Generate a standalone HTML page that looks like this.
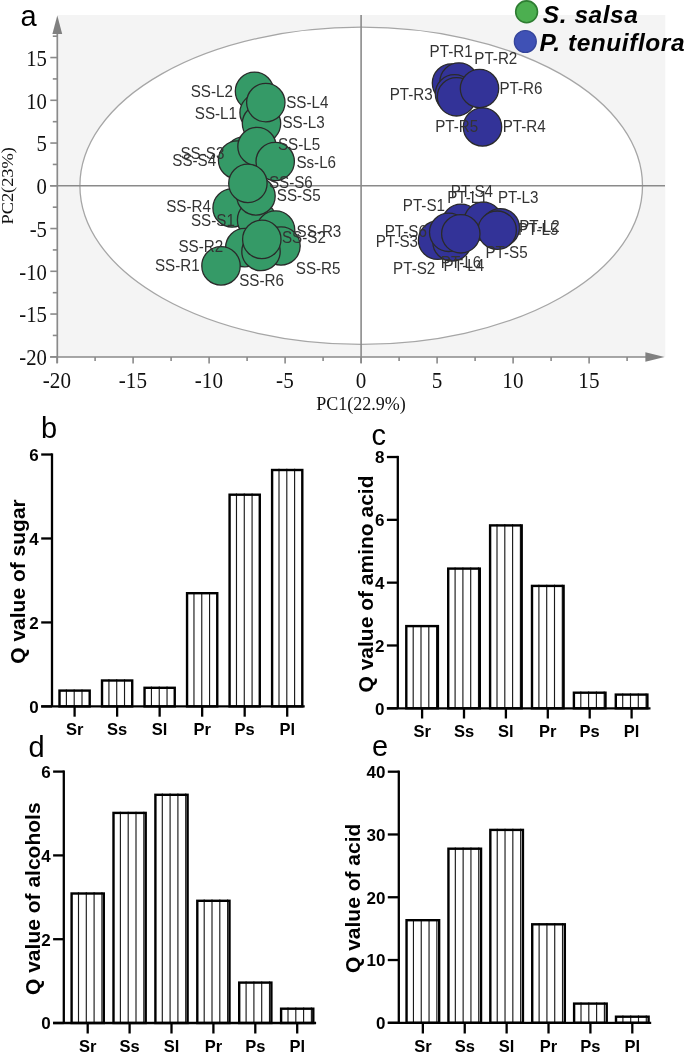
<!DOCTYPE html>
<html><head><meta charset="utf-8"><style>
html,body{margin:0;padding:0;background:#fff;overflow:hidden;}
svg{display:block;will-change:transform;}
.tk{font-family:"Liberation Serif",serif;font-size:22px;fill:#111;}
.al{font-family:"Liberation Serif",serif;font-size:18px;fill:#111;}
.pl{font-family:"Liberation Sans",sans-serif;font-size:15.2px;fill:#333;}
.lg{font-family:"Liberation Sans",sans-serif;font-size:24.5px;letter-spacing:0.55px;font-weight:bold;font-style:italic;fill:#000;}
.pn{font-family:"Liberation Sans",sans-serif;font-size:29px;fill:#000;}
.bt{font-family:"Liberation Sans",sans-serif;font-size:17px;font-weight:bold;fill:#000;}
.bx{font-family:"Liberation Sans",sans-serif;font-size:16.5px;font-weight:bold;fill:#000;}
.yl{font-family:"Liberation Sans",sans-serif;font-size:21px;font-weight:bold;fill:#000;}
</style></head><body>
<svg width="685" height="1054" viewBox="0 0 685 1054">
<rect x="57.3" y="15" width="608" height="342" fill="#f4f4f4"/>
<ellipse cx="361.2" cy="185.8" rx="281.3" ry="158.6" fill="#ffffff" stroke="#a6a6a6" stroke-width="1.3"/>
<line x1="50" y1="185.8" x2="665" y2="185.8" stroke="#8a8a8a" stroke-width="1.6"/>
<line x1="361.1" y1="15" x2="361.1" y2="363" stroke="#8a8a8a" stroke-width="1.6"/>
<line x1="57.3" y1="30" x2="57.3" y2="363" stroke="#8a8a8a" stroke-width="1.7"/>
<line x1="50" y1="357" x2="650" y2="357" stroke="#8a8a8a" stroke-width="1.7"/>
<polygon points="57.3,15.4 52.4,34 62.2,34" fill="#808080"/>
<polygon points="664.6,357 645.4,352.3 645.4,361.7" fill="#808080"/>
<line x1="50.3" y1="356.80" x2="57.3" y2="356.80" stroke="#8a8a8a" stroke-width="1.6"/>
<line x1="52.8" y1="335.43" x2="57.3" y2="335.43" stroke="#8a8a8a" stroke-width="1.6"/>
<line x1="50.3" y1="314.05" x2="57.3" y2="314.05" stroke="#8a8a8a" stroke-width="1.6"/>
<line x1="52.8" y1="292.68" x2="57.3" y2="292.68" stroke="#8a8a8a" stroke-width="1.6"/>
<line x1="50.3" y1="271.30" x2="57.3" y2="271.30" stroke="#8a8a8a" stroke-width="1.6"/>
<line x1="52.8" y1="249.93" x2="57.3" y2="249.93" stroke="#8a8a8a" stroke-width="1.6"/>
<line x1="50.3" y1="228.55" x2="57.3" y2="228.55" stroke="#8a8a8a" stroke-width="1.6"/>
<line x1="52.8" y1="207.18" x2="57.3" y2="207.18" stroke="#8a8a8a" stroke-width="1.6"/>
<line x1="50.3" y1="185.80" x2="57.3" y2="185.80" stroke="#8a8a8a" stroke-width="1.6"/>
<line x1="52.8" y1="164.43" x2="57.3" y2="164.43" stroke="#8a8a8a" stroke-width="1.6"/>
<line x1="50.3" y1="143.05" x2="57.3" y2="143.05" stroke="#8a8a8a" stroke-width="1.6"/>
<line x1="52.8" y1="121.68" x2="57.3" y2="121.68" stroke="#8a8a8a" stroke-width="1.6"/>
<line x1="50.3" y1="100.30" x2="57.3" y2="100.30" stroke="#8a8a8a" stroke-width="1.6"/>
<line x1="52.8" y1="78.92" x2="57.3" y2="78.92" stroke="#8a8a8a" stroke-width="1.6"/>
<line x1="50.3" y1="57.55" x2="57.3" y2="57.55" stroke="#8a8a8a" stroke-width="1.6"/>
<line x1="52.8" y1="36.18" x2="57.3" y2="36.18" stroke="#8a8a8a" stroke-width="1.6"/>
<line x1="57.10" y1="357" x2="57.10" y2="363.5" stroke="#8a8a8a" stroke-width="1.6"/>
<line x1="95.10" y1="357" x2="95.10" y2="361" stroke="#8a8a8a" stroke-width="1.6"/>
<line x1="133.10" y1="357" x2="133.10" y2="363.5" stroke="#8a8a8a" stroke-width="1.6"/>
<line x1="171.10" y1="357" x2="171.10" y2="361" stroke="#8a8a8a" stroke-width="1.6"/>
<line x1="209.10" y1="357" x2="209.10" y2="363.5" stroke="#8a8a8a" stroke-width="1.6"/>
<line x1="247.10" y1="357" x2="247.10" y2="361" stroke="#8a8a8a" stroke-width="1.6"/>
<line x1="285.10" y1="357" x2="285.10" y2="363.5" stroke="#8a8a8a" stroke-width="1.6"/>
<line x1="323.10" y1="357" x2="323.10" y2="361" stroke="#8a8a8a" stroke-width="1.6"/>
<line x1="361.10" y1="357" x2="361.10" y2="363.5" stroke="#8a8a8a" stroke-width="1.6"/>
<line x1="399.10" y1="357" x2="399.10" y2="361" stroke="#8a8a8a" stroke-width="1.6"/>
<line x1="437.10" y1="357" x2="437.10" y2="363.5" stroke="#8a8a8a" stroke-width="1.6"/>
<line x1="475.10" y1="357" x2="475.10" y2="361" stroke="#8a8a8a" stroke-width="1.6"/>
<line x1="513.10" y1="357" x2="513.10" y2="363.5" stroke="#8a8a8a" stroke-width="1.6"/>
<line x1="551.10" y1="357" x2="551.10" y2="361" stroke="#8a8a8a" stroke-width="1.6"/>
<line x1="589.10" y1="357" x2="589.10" y2="363.5" stroke="#8a8a8a" stroke-width="1.6"/>
<line x1="627.10" y1="357" x2="627.10" y2="361" stroke="#8a8a8a" stroke-width="1.6"/>
<text transform="translate(46.9,65.75) scale(0.94,1.035)" text-anchor="end" class="tk">15</text>
<text transform="translate(46.9,108.50) scale(0.94,1.035)" text-anchor="end" class="tk">10</text>
<text transform="translate(46.9,151.25) scale(0.94,1.035)" text-anchor="end" class="tk">5</text>
<text transform="translate(46.9,194.00) scale(0.94,1.035)" text-anchor="end" class="tk">0</text>
<text transform="translate(46.9,236.75) scale(0.94,1.035)" text-anchor="end" class="tk">-5</text>
<text transform="translate(46.9,279.50) scale(0.94,1.035)" text-anchor="end" class="tk">-10</text>
<text transform="translate(46.9,322.25) scale(0.94,1.035)" text-anchor="end" class="tk">-15</text>
<text transform="translate(46.9,365.00) scale(0.94,1.035)" text-anchor="end" class="tk">-20</text>
<text transform="translate(56.90,388.2) scale(0.96,1.035)" text-anchor="middle" class="tk">-20</text>
<text transform="translate(132.90,388.2) scale(0.96,1.035)" text-anchor="middle" class="tk">-15</text>
<text transform="translate(208.90,388.2) scale(0.96,1.035)" text-anchor="middle" class="tk">-10</text>
<text transform="translate(284.90,388.2) scale(0.96,1.035)" text-anchor="middle" class="tk">-5</text>
<text transform="translate(360.90,388.2) scale(0.96,1.035)" text-anchor="middle" class="tk">0</text>
<text transform="translate(436.90,388.2) scale(0.96,1.035)" text-anchor="middle" class="tk">5</text>
<text transform="translate(512.90,388.2) scale(0.96,1.035)" text-anchor="middle" class="tk">10</text>
<text transform="translate(588.90,388.2) scale(0.96,1.035)" text-anchor="middle" class="tk">15</text>
<text x="361" y="410.1" text-anchor="middle" class="al">PC1(22.9%)</text>
<text transform="translate(13.3,185.8) rotate(-90) scale(1.02,0.9)" text-anchor="middle" class="al">PC2(23%)</text>
<circle cx="254.5" cy="91.3" r="19.2" fill="#359a67" stroke="#2a2a2a" stroke-width="1.3"/>
<circle cx="259.1" cy="112.7" r="19.2" fill="#359a67" stroke="#2a2a2a" stroke-width="1.3"/>
<circle cx="261.5" cy="123.6" r="19.2" fill="#359a67" stroke="#2a2a2a" stroke-width="1.3"/>
<circle cx="265.8" cy="102.6" r="19.2" fill="#359a67" stroke="#2a2a2a" stroke-width="1.3"/>
<circle cx="244" cy="156" r="19.2" fill="#359a67" stroke="#2a2a2a" stroke-width="1.3"/>
<circle cx="237.6" cy="160" r="19.2" fill="#359a67" stroke="#2a2a2a" stroke-width="1.3"/>
<circle cx="257" cy="146.5" r="19.2" fill="#359a67" stroke="#2a2a2a" stroke-width="1.3"/>
<circle cx="275.2" cy="161.5" r="19.2" fill="#359a67" stroke="#2a2a2a" stroke-width="1.3"/>
<circle cx="232.1" cy="208" r="19.2" fill="#359a67" stroke="#2a2a2a" stroke-width="1.3"/>
<circle cx="256.6" cy="219.9" r="19.2" fill="#359a67" stroke="#2a2a2a" stroke-width="1.3"/>
<circle cx="256" cy="196" r="19.2" fill="#359a67" stroke="#2a2a2a" stroke-width="1.3"/>
<circle cx="247.9" cy="183.4" r="19.2" fill="#359a67" stroke="#2a2a2a" stroke-width="1.3"/>
<circle cx="275.6" cy="230" r="19.2" fill="#359a67" stroke="#2a2a2a" stroke-width="1.3"/>
<circle cx="281" cy="246" r="19.2" fill="#359a67" stroke="#2a2a2a" stroke-width="1.3"/>
<circle cx="244.8" cy="247.6" r="19.2" fill="#359a67" stroke="#2a2a2a" stroke-width="1.3"/>
<circle cx="221" cy="265.9" r="19.2" fill="#359a67" stroke="#2a2a2a" stroke-width="1.3"/>
<circle cx="261" cy="251.5" r="19.2" fill="#359a67" stroke="#2a2a2a" stroke-width="1.3"/>
<circle cx="261.8" cy="239.4" r="19.2" fill="#359a67" stroke="#2a2a2a" stroke-width="1.3"/>
<circle cx="451.5" cy="83" r="19.2" fill="#333398" stroke="#2a2a2a" stroke-width="1.3"/>
<circle cx="459" cy="82" r="19.2" fill="#333398" stroke="#2a2a2a" stroke-width="1.3"/>
<circle cx="454.5" cy="93.8" r="19.2" fill="#333398" stroke="#2a2a2a" stroke-width="1.3"/>
<circle cx="456.5" cy="96.8" r="19.2" fill="#333398" stroke="#2a2a2a" stroke-width="1.3"/>
<circle cx="482.5" cy="127" r="19.2" fill="#333398" stroke="#2a2a2a" stroke-width="1.3"/>
<circle cx="479.5" cy="88.5" r="19.2" fill="#333398" stroke="#2a2a2a" stroke-width="1.3"/>
<circle cx="461.1" cy="223.3" r="19.2" fill="#333398" stroke="#2a2a2a" stroke-width="1.3"/>
<circle cx="483.2" cy="221.3" r="19.2" fill="#333398" stroke="#2a2a2a" stroke-width="1.3"/>
<circle cx="500.3" cy="227.8" r="19.2" fill="#333398" stroke="#2a2a2a" stroke-width="1.3"/>
<circle cx="497.2" cy="230.2" r="19.2" fill="#333398" stroke="#2a2a2a" stroke-width="1.3"/>
<circle cx="437.6" cy="240.2" r="19.2" fill="#333398" stroke="#2a2a2a" stroke-width="1.3"/>
<circle cx="452" cy="242" r="19.2" fill="#333398" stroke="#2a2a2a" stroke-width="1.3"/>
<circle cx="448.7" cy="232.3" r="19.2" fill="#333398" stroke="#2a2a2a" stroke-width="1.3"/>
<circle cx="460.8" cy="233.8" r="19.2" fill="#333398" stroke="#2a2a2a" stroke-width="1.3"/>
<text transform="translate(190.70,96.9) scale(1.0,1.08)" class="pl">SS-L2</text>
<text transform="translate(286.20,108) scale(1.0,1.08)" class="pl">SS-L4</text>
<text transform="translate(194.80,119) scale(1.0,1.08)" class="pl">SS-L1</text>
<text transform="translate(282.40,128.4) scale(1.0,1.08)" class="pl">SS-L3</text>
<text transform="translate(278.00,150.3) scale(1.0,1.08)" class="pl">SS-L5</text>
<text transform="translate(296.40,167.8) scale(1.0,1.08)" class="pl">Ss-L6</text>
<text transform="translate(180.50,159) scale(1.0,1.08)" class="pl">SS-S3</text>
<text transform="translate(172.30,166.3) scale(1.0,1.08)" class="pl">SS-S4</text>
<text transform="translate(268.90,187.7) scale(1.0,1.08)" class="pl">SS-S6</text>
<text transform="translate(276.80,200.9) scale(1.0,1.08)" class="pl">SS-S5</text>
<text transform="translate(166.20,212) scale(1.0,1.08)" class="pl">SS-R4</text>
<text transform="translate(191.00,225.7) scale(1.0,1.08)" class="pl">SS-S1</text>
<text transform="translate(296.60,236.5) scale(1.0,1.08)" class="pl">SS-R3</text>
<text transform="translate(282.00,243.2) scale(1.0,1.08)" class="pl">SS-S2</text>
<text transform="translate(178.40,252) scale(1.0,1.08)" class="pl">SS-R2</text>
<text transform="translate(155.00,271) scale(1.0,1.08)" class="pl">SS-R1</text>
<text transform="translate(295.80,273.9) scale(1.0,1.08)" class="pl">SS-R5</text>
<text transform="translate(239.20,285.5) scale(1.0,1.08)" class="pl">SS-R6</text>
<text transform="translate(429.60,57.3) scale(1.0,1.08)" class="pl">PT-R1</text>
<text transform="translate(474.30,63.6) scale(1.0,1.08)" class="pl">PT-R2</text>
<text transform="translate(389.70,99.6) scale(1.0,1.08)" class="pl">PT-R3</text>
<text transform="translate(499.50,93.9) scale(1.0,1.08)" class="pl">PT-R6</text>
<text transform="translate(435.20,132) scale(1.0,1.08)" class="pl">PT-R5</text>
<text transform="translate(502.70,132) scale(1.0,1.08)" class="pl">PT-R4</text>
<text transform="translate(450.80,197.2) scale(1.0,1.08)" class="pl">PT-S4</text>
<text transform="translate(447.20,203.3) scale(1.0,1.08)" class="pl">PT-L1</text>
<text transform="translate(497.90,203.3) scale(1.0,1.08)" class="pl">PT-L3</text>
<text transform="translate(402.80,211) scale(1.0,1.08)" class="pl">PT-S1</text>
<text transform="translate(384.70,237.4) scale(1.0,1.08)" class="pl">PT-S6</text>
<text transform="translate(375.80,246.6) scale(1.0,1.08)" class="pl">PT-S3</text>
<text transform="translate(519.20,231.9) scale(1.0,1.08)" class="pl">PT-L2</text>
<text transform="translate(517.90,234.6) scale(1.0,1.08)" class="pl">PT-L5</text>
<text transform="translate(485.40,258.2) scale(1.0,1.08)" class="pl">PT-S5</text>
<text transform="translate(393.10,273.5) scale(1.0,1.08)" class="pl">PT-S2</text>
<text transform="translate(440.80,267.9) scale(1.0,1.08)" class="pl">PT-L6</text>
<text transform="translate(443.60,270.7) scale(1.0,1.08)" class="pl">PT-L4</text>
<circle cx="526.6" cy="11.8" r="10.9" fill="#4caf50" stroke="#2e7d32" stroke-width="1.6"/>
<circle cx="525.3" cy="41.5" r="11" fill="#3f51b5" stroke="#34449a" stroke-width="1.2"/>
<text x="542.8" y="22.5" class="lg">S. salsa</text>
<text x="539.5" y="51.4" class="lg">P. tenuiflora</text>
<text x="20.5" y="25.6" class="pn">a</text>
<text x="41.1" y="438.2" class="pn">b</text>
<text x="371.4" y="444.6" class="pn">c</text>
<text x="28.5" y="756.6" class="pn">d</text>
<text x="372" y="756.4" class="pn">e</text>
<line x1="66.40" y1="689.40" x2="66.40" y2="706.40" stroke="#1a1a1a" stroke-width="1.15"/>
<line x1="74.20" y1="689.40" x2="74.20" y2="706.40" stroke="#1a1a1a" stroke-width="1.15"/>
<line x1="82.00" y1="689.40" x2="82.00" y2="706.40" stroke="#1a1a1a" stroke-width="1.15"/>
<rect x="59.50" y="690.60" width="30.20" height="15.80" fill="none" stroke="#000" stroke-width="2.4"/>
<line x1="108.92" y1="679.30" x2="108.92" y2="706.40" stroke="#1a1a1a" stroke-width="1.15"/>
<line x1="116.72" y1="679.30" x2="116.72" y2="706.40" stroke="#1a1a1a" stroke-width="1.15"/>
<line x1="124.52" y1="679.30" x2="124.52" y2="706.40" stroke="#1a1a1a" stroke-width="1.15"/>
<rect x="102.02" y="680.50" width="30.20" height="25.90" fill="none" stroke="#000" stroke-width="2.4"/>
<line x1="151.44" y1="686.60" x2="151.44" y2="706.40" stroke="#1a1a1a" stroke-width="1.15"/>
<line x1="159.24" y1="686.60" x2="159.24" y2="706.40" stroke="#1a1a1a" stroke-width="1.15"/>
<line x1="167.04" y1="686.60" x2="167.04" y2="706.40" stroke="#1a1a1a" stroke-width="1.15"/>
<rect x="144.54" y="687.80" width="30.20" height="18.60" fill="none" stroke="#000" stroke-width="2.4"/>
<line x1="193.96" y1="592.00" x2="193.96" y2="706.40" stroke="#1a1a1a" stroke-width="1.15"/>
<line x1="201.76" y1="592.00" x2="201.76" y2="706.40" stroke="#1a1a1a" stroke-width="1.15"/>
<line x1="209.56" y1="592.00" x2="209.56" y2="706.40" stroke="#1a1a1a" stroke-width="1.15"/>
<rect x="187.06" y="593.20" width="30.20" height="113.20" fill="none" stroke="#000" stroke-width="2.4"/>
<line x1="236.48" y1="493.50" x2="236.48" y2="706.40" stroke="#1a1a1a" stroke-width="1.15"/>
<line x1="244.28" y1="493.50" x2="244.28" y2="706.40" stroke="#1a1a1a" stroke-width="1.15"/>
<line x1="252.08" y1="493.50" x2="252.08" y2="706.40" stroke="#1a1a1a" stroke-width="1.15"/>
<rect x="229.58" y="494.70" width="30.20" height="211.70" fill="none" stroke="#000" stroke-width="2.4"/>
<line x1="279.00" y1="468.80" x2="279.00" y2="706.40" stroke="#1a1a1a" stroke-width="1.15"/>
<line x1="286.80" y1="468.80" x2="286.80" y2="706.40" stroke="#1a1a1a" stroke-width="1.15"/>
<line x1="294.60" y1="468.80" x2="294.60" y2="706.40" stroke="#1a1a1a" stroke-width="1.15"/>
<rect x="272.10" y="470.00" width="30.20" height="236.40" fill="none" stroke="#000" stroke-width="2.4"/>
<line x1="52.0" y1="453.37" x2="52.0" y2="706.40" stroke="#000" stroke-width="2.3"/>
<line x1="41.2" y1="706.4" x2="304.7" y2="706.4" stroke="#000" stroke-width="2.3"/>
<line x1="41.20" y1="706.40" x2="52.0" y2="706.40" stroke="#000" stroke-width="2.3"/>
<text x="38.80" y="712.80" text-anchor="end" class="bt">0</text>
<line x1="41.20" y1="622.44" x2="52.0" y2="622.44" stroke="#000" stroke-width="2.3"/>
<text x="38.80" y="628.84" text-anchor="end" class="bt">2</text>
<line x1="41.20" y1="538.48" x2="52.0" y2="538.48" stroke="#000" stroke-width="2.3"/>
<text x="38.80" y="544.88" text-anchor="end" class="bt">4</text>
<line x1="41.20" y1="454.52" x2="52.0" y2="454.52" stroke="#000" stroke-width="2.3"/>
<text x="38.80" y="460.92" text-anchor="end" class="bt">6</text>
<line x1="74.60" y1="706.4" x2="74.60" y2="716.70" stroke="#000" stroke-width="2.3"/>
<text x="74.60" y="735.30" text-anchor="middle" class="bx">Sr</text>
<line x1="117.12" y1="706.4" x2="117.12" y2="716.70" stroke="#000" stroke-width="2.3"/>
<text x="117.12" y="735.30" text-anchor="middle" class="bx">Ss</text>
<line x1="159.64" y1="706.4" x2="159.64" y2="716.70" stroke="#000" stroke-width="2.3"/>
<text x="159.64" y="735.30" text-anchor="middle" class="bx">Sl</text>
<line x1="202.16" y1="706.4" x2="202.16" y2="716.70" stroke="#000" stroke-width="2.3"/>
<text x="202.16" y="735.30" text-anchor="middle" class="bx">Pr</text>
<line x1="244.68" y1="706.4" x2="244.68" y2="716.70" stroke="#000" stroke-width="2.3"/>
<text x="244.68" y="735.30" text-anchor="middle" class="bx">Ps</text>
<line x1="287.20" y1="706.4" x2="287.20" y2="716.70" stroke="#000" stroke-width="2.3"/>
<text x="287.20" y="735.30" text-anchor="middle" class="bx">Pl</text>
<text transform="translate(24.8,581.5) rotate(-90)" text-anchor="middle" class="yl">Q value of sugar</text>
<line x1="413.20" y1="624.90" x2="413.20" y2="708.30" stroke="#1a1a1a" stroke-width="1.15"/>
<line x1="421.00" y1="624.90" x2="421.00" y2="708.30" stroke="#1a1a1a" stroke-width="1.15"/>
<line x1="428.80" y1="624.90" x2="428.80" y2="708.30" stroke="#1a1a1a" stroke-width="1.15"/>
<line x1="436.60" y1="624.90" x2="436.60" y2="708.30" stroke="#1a1a1a" stroke-width="1.15"/>
<rect x="406.30" y="626.10" width="31.60" height="82.20" fill="none" stroke="#000" stroke-width="2.4"/>
<line x1="455.10" y1="567.40" x2="455.10" y2="708.30" stroke="#1a1a1a" stroke-width="1.15"/>
<line x1="462.90" y1="567.40" x2="462.90" y2="708.30" stroke="#1a1a1a" stroke-width="1.15"/>
<line x1="470.70" y1="567.40" x2="470.70" y2="708.30" stroke="#1a1a1a" stroke-width="1.15"/>
<line x1="478.50" y1="567.40" x2="478.50" y2="708.30" stroke="#1a1a1a" stroke-width="1.15"/>
<rect x="448.20" y="568.60" width="31.60" height="139.70" fill="none" stroke="#000" stroke-width="2.4"/>
<line x1="497.00" y1="524.20" x2="497.00" y2="708.30" stroke="#1a1a1a" stroke-width="1.15"/>
<line x1="504.80" y1="524.20" x2="504.80" y2="708.30" stroke="#1a1a1a" stroke-width="1.15"/>
<line x1="512.60" y1="524.20" x2="512.60" y2="708.30" stroke="#1a1a1a" stroke-width="1.15"/>
<line x1="520.40" y1="524.20" x2="520.40" y2="708.30" stroke="#1a1a1a" stroke-width="1.15"/>
<rect x="490.10" y="525.40" width="31.60" height="182.90" fill="none" stroke="#000" stroke-width="2.4"/>
<line x1="538.90" y1="584.70" x2="538.90" y2="708.30" stroke="#1a1a1a" stroke-width="1.15"/>
<line x1="546.70" y1="584.70" x2="546.70" y2="708.30" stroke="#1a1a1a" stroke-width="1.15"/>
<line x1="554.50" y1="584.70" x2="554.50" y2="708.30" stroke="#1a1a1a" stroke-width="1.15"/>
<line x1="562.30" y1="584.70" x2="562.30" y2="708.30" stroke="#1a1a1a" stroke-width="1.15"/>
<rect x="532.00" y="585.90" width="31.60" height="122.40" fill="none" stroke="#000" stroke-width="2.4"/>
<line x1="580.80" y1="691.50" x2="580.80" y2="708.30" stroke="#1a1a1a" stroke-width="1.15"/>
<line x1="588.60" y1="691.50" x2="588.60" y2="708.30" stroke="#1a1a1a" stroke-width="1.15"/>
<line x1="596.40" y1="691.50" x2="596.40" y2="708.30" stroke="#1a1a1a" stroke-width="1.15"/>
<line x1="604.20" y1="691.50" x2="604.20" y2="708.30" stroke="#1a1a1a" stroke-width="1.15"/>
<rect x="573.90" y="692.70" width="31.60" height="15.60" fill="none" stroke="#000" stroke-width="2.4"/>
<line x1="622.70" y1="693.40" x2="622.70" y2="708.30" stroke="#1a1a1a" stroke-width="1.15"/>
<line x1="630.50" y1="693.40" x2="630.50" y2="708.30" stroke="#1a1a1a" stroke-width="1.15"/>
<line x1="638.30" y1="693.40" x2="638.30" y2="708.30" stroke="#1a1a1a" stroke-width="1.15"/>
<line x1="646.10" y1="693.40" x2="646.10" y2="708.30" stroke="#1a1a1a" stroke-width="1.15"/>
<rect x="615.80" y="694.60" width="31.60" height="13.70" fill="none" stroke="#000" stroke-width="2.4"/>
<line x1="397.8" y1="455.87" x2="397.8" y2="708.30" stroke="#000" stroke-width="2.3"/>
<line x1="386.9" y1="708.3" x2="650.5" y2="708.3" stroke="#000" stroke-width="2.3"/>
<line x1="386.90" y1="708.30" x2="397.8" y2="708.30" stroke="#000" stroke-width="2.3"/>
<text x="384.50" y="714.70" text-anchor="end" class="bt">0</text>
<line x1="386.90" y1="645.48" x2="397.8" y2="645.48" stroke="#000" stroke-width="2.3"/>
<text x="384.50" y="651.88" text-anchor="end" class="bt">2</text>
<line x1="386.90" y1="582.66" x2="397.8" y2="582.66" stroke="#000" stroke-width="2.3"/>
<text x="384.50" y="589.06" text-anchor="end" class="bt">4</text>
<line x1="386.90" y1="519.84" x2="397.8" y2="519.84" stroke="#000" stroke-width="2.3"/>
<text x="384.50" y="526.24" text-anchor="end" class="bt">6</text>
<line x1="386.90" y1="457.02" x2="397.8" y2="457.02" stroke="#000" stroke-width="2.3"/>
<text x="384.50" y="463.42" text-anchor="end" class="bt">8</text>
<line x1="422.10" y1="708.3" x2="422.10" y2="718.50" stroke="#000" stroke-width="2.3"/>
<text x="422.10" y="737.00" text-anchor="middle" class="bx">Sr</text>
<line x1="464.00" y1="708.3" x2="464.00" y2="718.50" stroke="#000" stroke-width="2.3"/>
<text x="464.00" y="737.00" text-anchor="middle" class="bx">Ss</text>
<line x1="505.90" y1="708.3" x2="505.90" y2="718.50" stroke="#000" stroke-width="2.3"/>
<text x="505.90" y="737.00" text-anchor="middle" class="bx">Sl</text>
<line x1="547.80" y1="708.3" x2="547.80" y2="718.50" stroke="#000" stroke-width="2.3"/>
<text x="547.80" y="737.00" text-anchor="middle" class="bx">Pr</text>
<line x1="589.70" y1="708.3" x2="589.70" y2="718.50" stroke="#000" stroke-width="2.3"/>
<text x="589.70" y="737.00" text-anchor="middle" class="bx">Ps</text>
<line x1="631.60" y1="708.3" x2="631.60" y2="718.50" stroke="#000" stroke-width="2.3"/>
<text x="631.60" y="737.00" text-anchor="middle" class="bx">Pl</text>
<text transform="translate(373.3,584) rotate(-90)" text-anchor="middle" class="yl">Q value of amino acid</text>
<line x1="78.50" y1="892.30" x2="78.50" y2="1023.00" stroke="#1a1a1a" stroke-width="1.15"/>
<line x1="86.30" y1="892.30" x2="86.30" y2="1023.00" stroke="#1a1a1a" stroke-width="1.15"/>
<line x1="94.10" y1="892.30" x2="94.10" y2="1023.00" stroke="#1a1a1a" stroke-width="1.15"/>
<line x1="101.90" y1="892.30" x2="101.90" y2="1023.00" stroke="#1a1a1a" stroke-width="1.15"/>
<rect x="71.60" y="893.50" width="32.20" height="129.50" fill="none" stroke="#000" stroke-width="2.4"/>
<line x1="120.40" y1="811.70" x2="120.40" y2="1023.00" stroke="#1a1a1a" stroke-width="1.15"/>
<line x1="128.20" y1="811.70" x2="128.20" y2="1023.00" stroke="#1a1a1a" stroke-width="1.15"/>
<line x1="136.00" y1="811.70" x2="136.00" y2="1023.00" stroke="#1a1a1a" stroke-width="1.15"/>
<line x1="143.80" y1="811.70" x2="143.80" y2="1023.00" stroke="#1a1a1a" stroke-width="1.15"/>
<rect x="113.50" y="812.90" width="32.20" height="210.10" fill="none" stroke="#000" stroke-width="2.4"/>
<line x1="162.30" y1="793.60" x2="162.30" y2="1023.00" stroke="#1a1a1a" stroke-width="1.15"/>
<line x1="170.10" y1="793.60" x2="170.10" y2="1023.00" stroke="#1a1a1a" stroke-width="1.15"/>
<line x1="177.90" y1="793.60" x2="177.90" y2="1023.00" stroke="#1a1a1a" stroke-width="1.15"/>
<line x1="185.70" y1="793.60" x2="185.70" y2="1023.00" stroke="#1a1a1a" stroke-width="1.15"/>
<rect x="155.40" y="794.80" width="32.20" height="228.20" fill="none" stroke="#000" stroke-width="2.4"/>
<line x1="204.20" y1="899.60" x2="204.20" y2="1023.00" stroke="#1a1a1a" stroke-width="1.15"/>
<line x1="212.00" y1="899.60" x2="212.00" y2="1023.00" stroke="#1a1a1a" stroke-width="1.15"/>
<line x1="219.80" y1="899.60" x2="219.80" y2="1023.00" stroke="#1a1a1a" stroke-width="1.15"/>
<line x1="227.60" y1="899.60" x2="227.60" y2="1023.00" stroke="#1a1a1a" stroke-width="1.15"/>
<rect x="197.30" y="900.80" width="32.20" height="122.20" fill="none" stroke="#000" stroke-width="2.4"/>
<line x1="246.10" y1="981.40" x2="246.10" y2="1023.00" stroke="#1a1a1a" stroke-width="1.15"/>
<line x1="253.90" y1="981.40" x2="253.90" y2="1023.00" stroke="#1a1a1a" stroke-width="1.15"/>
<line x1="261.70" y1="981.40" x2="261.70" y2="1023.00" stroke="#1a1a1a" stroke-width="1.15"/>
<line x1="269.50" y1="981.40" x2="269.50" y2="1023.00" stroke="#1a1a1a" stroke-width="1.15"/>
<rect x="239.20" y="982.60" width="32.20" height="40.40" fill="none" stroke="#000" stroke-width="2.4"/>
<line x1="288.00" y1="1007.50" x2="288.00" y2="1023.00" stroke="#1a1a1a" stroke-width="1.15"/>
<line x1="295.80" y1="1007.50" x2="295.80" y2="1023.00" stroke="#1a1a1a" stroke-width="1.15"/>
<line x1="303.60" y1="1007.50" x2="303.60" y2="1023.00" stroke="#1a1a1a" stroke-width="1.15"/>
<line x1="311.40" y1="1007.50" x2="311.40" y2="1023.00" stroke="#1a1a1a" stroke-width="1.15"/>
<rect x="281.10" y="1008.70" width="32.20" height="14.30" fill="none" stroke="#000" stroke-width="2.4"/>
<line x1="63.8" y1="770.45" x2="63.8" y2="1023.00" stroke="#000" stroke-width="2.3"/>
<line x1="53.1" y1="1023" x2="316.1" y2="1023" stroke="#000" stroke-width="2.3"/>
<line x1="53.10" y1="1023.00" x2="63.8" y2="1023.00" stroke="#000" stroke-width="2.3"/>
<text x="50.70" y="1029.40" text-anchor="end" class="bt">0</text>
<line x1="53.10" y1="939.20" x2="63.8" y2="939.20" stroke="#000" stroke-width="2.3"/>
<text x="50.70" y="945.60" text-anchor="end" class="bt">2</text>
<line x1="53.10" y1="855.40" x2="63.8" y2="855.40" stroke="#000" stroke-width="2.3"/>
<text x="50.70" y="861.80" text-anchor="end" class="bt">4</text>
<line x1="53.10" y1="771.60" x2="63.8" y2="771.60" stroke="#000" stroke-width="2.3"/>
<text x="50.70" y="778.00" text-anchor="end" class="bt">6</text>
<line x1="87.70" y1="1023" x2="87.70" y2="1033.50" stroke="#000" stroke-width="2.3"/>
<text x="87.70" y="1051.60" text-anchor="middle" class="bx">Sr</text>
<line x1="129.60" y1="1023" x2="129.60" y2="1033.50" stroke="#000" stroke-width="2.3"/>
<text x="129.60" y="1051.60" text-anchor="middle" class="bx">Ss</text>
<line x1="171.50" y1="1023" x2="171.50" y2="1033.50" stroke="#000" stroke-width="2.3"/>
<text x="171.50" y="1051.60" text-anchor="middle" class="bx">Sl</text>
<line x1="213.40" y1="1023" x2="213.40" y2="1033.50" stroke="#000" stroke-width="2.3"/>
<text x="213.40" y="1051.60" text-anchor="middle" class="bx">Pr</text>
<line x1="255.30" y1="1023" x2="255.30" y2="1033.50" stroke="#000" stroke-width="2.3"/>
<text x="255.30" y="1051.60" text-anchor="middle" class="bx">Ps</text>
<line x1="297.20" y1="1023" x2="297.20" y2="1033.50" stroke="#000" stroke-width="2.3"/>
<text x="297.20" y="1051.60" text-anchor="middle" class="bx">Pl</text>
<text transform="translate(40.0,898.7) rotate(-90)" text-anchor="middle" class="yl">Q value of alcohols</text>
<line x1="413.45" y1="919.00" x2="413.45" y2="1022.80" stroke="#1a1a1a" stroke-width="1.15"/>
<line x1="421.25" y1="919.00" x2="421.25" y2="1022.80" stroke="#1a1a1a" stroke-width="1.15"/>
<line x1="429.05" y1="919.00" x2="429.05" y2="1022.80" stroke="#1a1a1a" stroke-width="1.15"/>
<line x1="436.85" y1="919.00" x2="436.85" y2="1022.80" stroke="#1a1a1a" stroke-width="1.15"/>
<rect x="406.55" y="920.20" width="32.60" height="102.60" fill="none" stroke="#000" stroke-width="2.4"/>
<line x1="455.34" y1="847.50" x2="455.34" y2="1022.80" stroke="#1a1a1a" stroke-width="1.15"/>
<line x1="463.14" y1="847.50" x2="463.14" y2="1022.80" stroke="#1a1a1a" stroke-width="1.15"/>
<line x1="470.94" y1="847.50" x2="470.94" y2="1022.80" stroke="#1a1a1a" stroke-width="1.15"/>
<line x1="478.74" y1="847.50" x2="478.74" y2="1022.80" stroke="#1a1a1a" stroke-width="1.15"/>
<rect x="448.44" y="848.70" width="32.60" height="174.10" fill="none" stroke="#000" stroke-width="2.4"/>
<line x1="497.23" y1="828.70" x2="497.23" y2="1022.80" stroke="#1a1a1a" stroke-width="1.15"/>
<line x1="505.03" y1="828.70" x2="505.03" y2="1022.80" stroke="#1a1a1a" stroke-width="1.15"/>
<line x1="512.83" y1="828.70" x2="512.83" y2="1022.80" stroke="#1a1a1a" stroke-width="1.15"/>
<line x1="520.63" y1="828.70" x2="520.63" y2="1022.80" stroke="#1a1a1a" stroke-width="1.15"/>
<rect x="490.33" y="829.90" width="32.60" height="192.90" fill="none" stroke="#000" stroke-width="2.4"/>
<line x1="539.12" y1="923.10" x2="539.12" y2="1022.80" stroke="#1a1a1a" stroke-width="1.15"/>
<line x1="546.92" y1="923.10" x2="546.92" y2="1022.80" stroke="#1a1a1a" stroke-width="1.15"/>
<line x1="554.72" y1="923.10" x2="554.72" y2="1022.80" stroke="#1a1a1a" stroke-width="1.15"/>
<line x1="562.52" y1="923.10" x2="562.52" y2="1022.80" stroke="#1a1a1a" stroke-width="1.15"/>
<rect x="532.22" y="924.30" width="32.60" height="98.50" fill="none" stroke="#000" stroke-width="2.4"/>
<line x1="581.01" y1="1002.40" x2="581.01" y2="1022.80" stroke="#1a1a1a" stroke-width="1.15"/>
<line x1="588.81" y1="1002.40" x2="588.81" y2="1022.80" stroke="#1a1a1a" stroke-width="1.15"/>
<line x1="596.61" y1="1002.40" x2="596.61" y2="1022.80" stroke="#1a1a1a" stroke-width="1.15"/>
<line x1="604.41" y1="1002.40" x2="604.41" y2="1022.80" stroke="#1a1a1a" stroke-width="1.15"/>
<rect x="574.11" y="1003.60" width="32.60" height="19.20" fill="none" stroke="#000" stroke-width="2.4"/>
<line x1="622.90" y1="1015.50" x2="622.90" y2="1022.80" stroke="#1a1a1a" stroke-width="1.15"/>
<line x1="630.70" y1="1015.50" x2="630.70" y2="1022.80" stroke="#1a1a1a" stroke-width="1.15"/>
<line x1="638.50" y1="1015.50" x2="638.50" y2="1022.80" stroke="#1a1a1a" stroke-width="1.15"/>
<line x1="646.30" y1="1015.50" x2="646.30" y2="1022.80" stroke="#1a1a1a" stroke-width="1.15"/>
<rect x="616.00" y="1016.70" width="32.60" height="6.10" fill="none" stroke="#000" stroke-width="2.4"/>
<line x1="398.8" y1="770.55" x2="398.8" y2="1022.80" stroke="#000" stroke-width="2.3"/>
<line x1="387.8" y1="1022.8" x2="651.2" y2="1022.8" stroke="#000" stroke-width="2.3"/>
<line x1="387.80" y1="1022.80" x2="398.8" y2="1022.80" stroke="#000" stroke-width="2.3"/>
<text x="385.40" y="1029.20" text-anchor="end" class="bt">0</text>
<line x1="387.80" y1="960.02" x2="398.8" y2="960.02" stroke="#000" stroke-width="2.3"/>
<text x="385.40" y="966.42" text-anchor="end" class="bt">10</text>
<line x1="387.80" y1="897.25" x2="398.8" y2="897.25" stroke="#000" stroke-width="2.3"/>
<text x="385.40" y="903.65" text-anchor="end" class="bt">20</text>
<line x1="387.80" y1="834.47" x2="398.8" y2="834.47" stroke="#000" stroke-width="2.3"/>
<text x="385.40" y="840.87" text-anchor="end" class="bt">30</text>
<line x1="387.80" y1="771.70" x2="398.8" y2="771.70" stroke="#000" stroke-width="2.3"/>
<text x="385.40" y="778.10" text-anchor="end" class="bt">40</text>
<line x1="422.85" y1="1022.8" x2="422.85" y2="1033.50" stroke="#000" stroke-width="2.3"/>
<text x="422.85" y="1051.60" text-anchor="middle" class="bx">Sr</text>
<line x1="464.74" y1="1022.8" x2="464.74" y2="1033.50" stroke="#000" stroke-width="2.3"/>
<text x="464.74" y="1051.60" text-anchor="middle" class="bx">Ss</text>
<line x1="506.63" y1="1022.8" x2="506.63" y2="1033.50" stroke="#000" stroke-width="2.3"/>
<text x="506.63" y="1051.60" text-anchor="middle" class="bx">Sl</text>
<line x1="548.52" y1="1022.8" x2="548.52" y2="1033.50" stroke="#000" stroke-width="2.3"/>
<text x="548.52" y="1051.60" text-anchor="middle" class="bx">Pr</text>
<line x1="590.41" y1="1022.8" x2="590.41" y2="1033.50" stroke="#000" stroke-width="2.3"/>
<text x="590.41" y="1051.60" text-anchor="middle" class="bx">Ps</text>
<line x1="632.30" y1="1022.8" x2="632.30" y2="1033.50" stroke="#000" stroke-width="2.3"/>
<text x="632.30" y="1051.60" text-anchor="middle" class="bx">Pl</text>
<text transform="translate(360.2,898.3) rotate(-90)" text-anchor="middle" class="yl">Q value of acid</text>
</svg>
</body></html>
